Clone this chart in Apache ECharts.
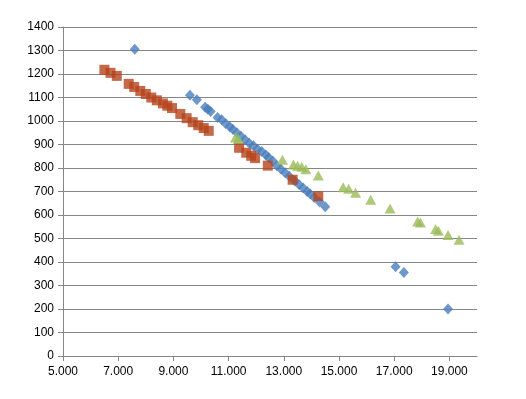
<!DOCTYPE html>
<html>
<head>
<meta charset="utf-8">
<script src="https://cdn.jsdelivr.net/npm/echarts@6/dist/echarts.min.js"></script>
<style>
  html, body { margin: 0; padding: 0; background: #fff; }
  #box { width: 526px; height: 399px; }
</style>
</head>
<body>
<div id="box"></div>
<script>
// blue diamonds
const blueX = [7.6, 9.6, 9.85, 10.15, 10.25, 10.35, 10.6, 10.75, 10.9, 11.05, 11.15, 11.3, 11.45, 11.6, 11.75, 11.9, 12.05, 12.2, 12.35, 12.45, 12.6, 12.75, 12.9, 13.05, 13.2, 13.4, 13.55, 13.7, 13.85, 13.95, 14.1, 14.3, 14.5, 17.05, 17.35, 18.95]
const blueY = [1305, 1110, 1090, 1058, 1050, 1040, 1015, 1005, 988, 975, 965, 950, 935, 920, 905, 895, 880, 870, 855, 845, 830, 810, 795, 780, 765, 745, 730, 715, 700, 690, 675, 655, 635, 380, 355, 200]
// red squares
const redX = [6.5, 6.72, 6.95, 7.38, 7.58, 7.8, 8.0, 8.2, 8.4, 8.62, 8.78, 8.95, 9.25, 9.48, 9.7, 9.9, 10.1, 10.28, 11.38, 11.64, 11.82, 11.96, 12.42, 13.32, 14.25]
const redY = [1218, 1205, 1192, 1158, 1145, 1128, 1115, 1100, 1088, 1075, 1065, 1055, 1030, 1012, 995, 982, 970, 958, 886, 865, 852, 842, 810, 750, 680]
// green triangles
const greenX = [11.25, 11.35, 12.95, 13.35, 13.5, 13.65, 13.8, 14.25, 15.15, 15.35, 15.6, 16.15, 16.85, 17.85, 17.95, 18.5, 18.6, 18.95, 19.35]
const greenY = [930, 925, 835, 815, 810, 805, 795, 768, 718, 712, 695, 665, 628, 572, 568, 540, 533, 515, 495]

const pairs = (xs, ys) => xs.map((x, i) => [x, ys[i]])

const chart = echarts.init(document.getElementById('box'))
const axisFont = { color: '#000', fontSize: 12, fontFamily: 'Liberation Sans, Arial, sans-serif' }
chart.setOption({
  animation: false,
  grid: { left: 63, right: 49, top: 27, bottom: 43 },
  xAxis: {
    type: 'value',
    min: 5, max: 20, interval: 2,
    axisLine: { show: true, lineStyle: { color: '#868686' } },
    axisTick: { show: true, length: 5, lineStyle: { color: '#868686' } },
    splitLine: { show: false },
    axisLabel: Object.assign({ margin: 10, showMaxLabel: false, formatter: v => v.toFixed(3) }, axisFont)
  },
  yAxis: {
    type: 'value',
    min: 0, max: 1400, interval: 100,
    axisLine: { show: true, lineStyle: { color: '#868686' } },
    axisTick: { show: true, length: 5, lineStyle: { color: '#868686' } },
    splitLine: { show: true, lineStyle: { color: '#868686' } },
    axisLabel: Object.assign({ margin: 9, formatter: v => String(v) }, axisFont)
  },
  series: [
    { name: 'S1', type: 'scatter', symbol: 'diamond', symbolSize: [10, 11],
      itemStyle: { color: '#4A7EBB' }, data: pairs(blueX, blueY) },
    { name: 'S2', type: 'scatter', symbol: 'rect', symbolSize: 10,
      itemStyle: { color: '#B5431C' }, data: pairs(redX, redY) },
    { name: 'S3', type: 'scatter', symbol: 'triangle', symbolSize: [11, 10],
      itemStyle: { color: '#9BBB59' }, data: pairs(greenX, greenY) }
  ]
})
</script>
</body>
</html>
